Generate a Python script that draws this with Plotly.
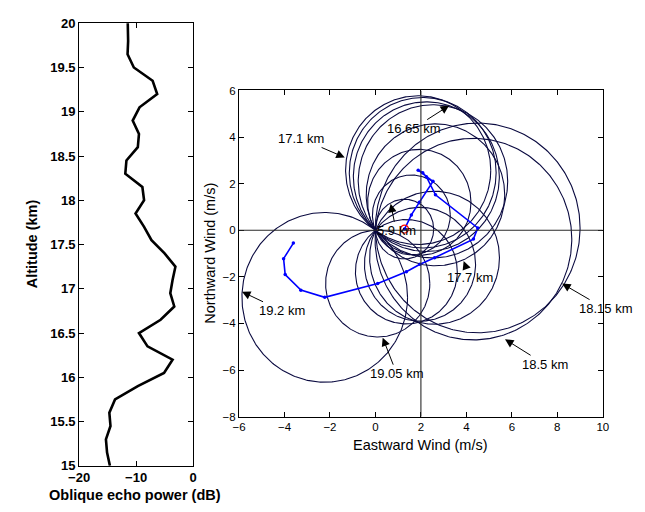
import numpy as np
import plotly.graph_objects as go

# ---------------- Data ----------------
# Left panel: oblique echo power profile
altitude_km = [15.00, 15.15, 15.30, 15.45, 15.60, 15.75, 15.90, 16.05, 16.20, 16.35,
               16.50, 16.65, 16.80, 16.95, 17.10, 17.25, 17.40, 17.55, 17.70, 17.85,
               18.00, 18.15, 18.30, 18.45, 18.60, 18.75, 18.90, 19.05, 19.20, 19.35,
               19.50, 19.65, 19.80, 19.95, 20.10]
echo_power_db = [-14.6, -15.1, -15.3, -14.5, -14.7, -13.7, -9.7, -5.1, -3.6, -8.0,
                 -9.5, -5.7, -3.3, -4.0, -3.6, -3.1, -5.0, -7.3, -8.6, -10.1,
                 -8.6, -8.9, -11.9, -11.7, -9.7, -9.5, -10.6, -9.4, -6.3, -7.1,
                 -10.4, -11.5, -11.4, -11.5, -11.5]

# Right panel: hodograph (eastward / northward wind at each altitude)
hodo_alt_km = [15.90, 16.15, 16.40, 16.65, 17.10, 17.30, 17.50, 17.70, 18.15, 18.50,
               18.65, 18.80, 18.90, 19.05, 19.20, 19.35, 19.50, 19.65, 19.80]
east_wind = [1.28, 1.58, 1.93, 2.53, 1.88, 2.08, 2.24, 2.64, 4.50, 4.31,
             2.60, 1.96, 1.36, 0.10, -2.23, -3.28, -3.97, -4.04, -3.61]
north_wind = [0.05, 0.66, 1.20, 2.10, 2.58, 2.47, 2.30, 1.52, 0.10, -0.38,
              -1.18, -1.46, -1.78, -2.29, -2.88, -2.57, -1.90, -1.22, -0.55]

# altitudes at which a circle (centre = wind vector, through origin) is drawn
ring_alt_km = [15.90, 16.15, 16.40, 16.65, 17.10, 17.30, 17.50, 17.70, 18.15, 18.50,
               18.65, 18.80, 18.90, 19.05, 19.20]

# labelled altitudes
label_text = ["5.9 km", "16.65 km", "17.1 km", "17.7 km", "18.15 km",
              "18.5 km", "19.05 km", "19.2 km"]

left_ticks_x = [-20, -10, 0]
left_ticks_y = [15, 15.5, 16, 16.5, 17, 17.5, 18, 18.5, 19, 19.5, 20]
right_ticks_x = [-6, -4, -2, 0, 2, 4, 6, 8, 10]
right_ticks_y = [-8, -6, -4, -2, 0, 2, 4, 6]

# ---------------- Figure ----------------
W, H = 645, 512
FONT = "Liberation Sans, Arial, Helvetica, sans-serif"


def px(xp):
    return xp / W


def py(yp):
    return 1 - yp / H


def fmt(v):
    return ("%g" % v).replace("-", "\u2212")


fig = go.Figure()

# left profile
fig.add_trace(go.Scatter(x=echo_power_db, y=altitude_km, mode="lines",
                         line=dict(color="black", width=2.6),
                         xaxis="x", yaxis="y", hoverinfo="skip"))

# circles
theta = np.linspace(0, 2 * np.pi, 361)
cx, cy = [], []
for a in ring_alt_km:
    i = hodo_alt_km.index(a)
    u, v = east_wind[i], north_wind[i]
    r = np.hypot(u, v)
    cx += list(u + r * np.cos(theta)) + [None]
    cy += list(v + r * np.sin(theta)) + [None]
fig.add_trace(go.Scatter(x=cx, y=cy, mode="lines",
                         line=dict(color="rgb(10,10,64)", width=1.1),
                         xaxis="x2", yaxis="y2", hoverinfo="skip"))

# hodograph
fig.add_trace(go.Scatter(x=east_wind, y=north_wind, mode="lines+markers",
                         line=dict(color="rgb(0,0,255)", width=1.6),
                         marker=dict(color="rgb(0,0,255)", size=3.5),
                         xaxis="x2", yaxis="y2", hoverinfo="skip"))

# start marker
fig.add_trace(go.Scatter(x=[east_wind[0]], y=[north_wind[0]], mode="markers",
                         marker=dict(symbol="circle-open", color="red", size=8,
                                     line=dict(width=1.2, color="red")),
                         xaxis="x2", yaxis="y2", hoverinfo="skip"))

ax_common = dict(showline=True, linecolor="black", linewidth=1, mirror="ticks",
                 ticks="inside", ticklen=5, tickcolor="black", showgrid=False,
                 zeroline=False)

fig.update_layout(
    width=W, height=H, margin=dict(l=0, r=0, t=0, b=0),
    paper_bgcolor="white", plot_bgcolor="white", showlegend=False,
    xaxis=dict(domain=[px(70), px(187)], range=[-20, 0], anchor="y",
               tickvals=left_ticks_x, ticktext=[fmt(v) for v in left_ticks_x],
               tickfont=dict(family=FONT, size=13, color="black", weight="bold"),
               **ax_common),
    yaxis=dict(domain=[py(472.7), py(16.7)], range=[15, 20], anchor="x",
               tickvals=left_ticks_y, ticktext=[fmt(v) for v in left_ticks_y],
               tickfont=dict(family=FONT, size=13, color="black", weight="bold"),
               **ax_common),
    xaxis2=dict(domain=[px(234.2), px(607.8)], range=[-6, 10], anchor="y2",
                tickvals=right_ticks_x, ticktext=[fmt(v) for v in right_ticks_x],
                tickfont=dict(family=FONT, size=11.5, color="black"),
                **ax_common),
    yaxis2=dict(domain=[py(422), py(86)], range=[-8, 6], anchor="x2",
                tickvals=right_ticks_y, ticktext=[fmt(v) for v in right_ticks_y],
                tickfont=dict(family=FONT, size=11.5, color="black"),
                **ax_common),
)

# cross-hair lines through x=2 and y=0
fig.add_shape(type="line", xref="x2", yref="y2", x0=2, x1=2, y0=-8, y1=6,
              line=dict(color="#2a2a2a", width=1.1), layer="above")
fig.add_shape(type="line", xref="x2", yref="y2", x0=-6, x1=10, y0=0, y1=0,
              line=dict(color="#2a2a2a", width=1.1), layer="above")

# axis titles
title_font = dict(family=FONT, size=14.5, color="black")
for text, xx, yy, ang in [("<b>Altitude (km)</b>", 21, 244, -90),
                          ("<b>Oblique echo power (dB)</b>", 127.4, 503, 0),
                          ("Northward Wind (m/s)", 203.5, 254, -90),
                          ("Eastward Wind (m/s)", 421, 451, 0)]:
    fig.add_annotation(text=text, xref="paper", yref="paper", x=px(xx), y=py(yy),
                       xanchor="center", yanchor="middle", showarrow=False,
                       textangle=ang, font=title_font)

# labelled arrows (head in data coords, text offset in pixels)
arrow_heads = [(0.67, 1.14), (3.24, 5.35), (-1.35, 3.125), (3.88, -1.32),
               (8.21, -2.29), (5.70, -4.68), (0.32, -4.61), (-5.87, -2.64)]
arrow_offsets = [(5.5, 27), (-36, 23), (-44, -19), (6, 16),
                 (43, 25), (40, 25), (14, 36), (40, 19)]
for t, (hx, hy), (ox, oy) in zip(label_text, arrow_heads, arrow_offsets):
    fig.add_annotation(text=t, x=hx, y=hy, xref="x2", yref="y2",
                       ax=ox, ay=oy, axref="pixel", ayref="pixel",
                       showarrow=True, arrowhead=2, arrowsize=1.7, arrowwidth=1,
                       arrowcolor="black", standoff=0, startstandoff=0,
                       font=dict(family=FONT, size=13, color="black"))

fig.write_html("out.html")
